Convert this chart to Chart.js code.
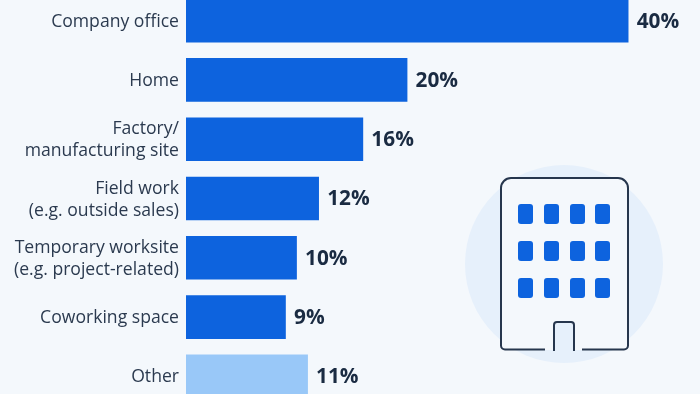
<!DOCTYPE html>
<html lang="en">
<head>
<meta charset="UTF-8">
<title>Work locations</title>
<script src="https://cdn.jsdelivr.net/npm/chart.js"></script>
<style>
    html, body { margin: 0; padding: 0; width: 700px; height: 394px; overflow: hidden; background: #f4f8fc; }
    #chart-box { position: absolute; left: 0; top: -9px; width: 700px; height: 415px; }
    #icon { position: absolute; left: 450px; top: 150px; }
</style>
</head>
<body>
<div id="chart-box"><canvas id="chart"></canvas></div>

<!-- Building icon -->
<svg id="icon" width="230" height="230" viewBox="0 0 230 230">
    <circle cx="114" cy="114" r="99" fill="#e6f0fb"/>
    <rect x="51" y="28" width="127" height="172" fill="#f4f8fc"/>
    <rect x="104" y="172" width="20" height="28" fill="#e6f0fb"/>
    <path d="M95 199.500H55a4 4 0 0 1-4-4V38a10 10 0 0 1 10-10h107a10 10 0 0 1 10 10v157.500a4 4 0 0 1-4 4H132" fill="none" stroke="#26364d" stroke-width="2"/>
    <path d="M104 201V175a3 3 0 0 1 3-3h14a3 3 0 0 1 3 3v26" fill="none" stroke="#26364d" stroke-width="2"/>
    <g fill="#0d63de">
        <rect x="68" y="54" width="15" height="20" rx="3"/><rect x="94" y="54" width="15" height="20" rx="3"/><rect x="120" y="54" width="15" height="20" rx="3"/><rect x="145" y="54" width="15" height="20" rx="3"/>
        <rect x="68" y="91" width="15" height="20" rx="3"/><rect x="94" y="91" width="15" height="20" rx="3"/><rect x="120" y="91" width="15" height="20" rx="3"/><rect x="145" y="91" width="15" height="20" rx="3"/>
        <rect x="68" y="128" width="15" height="20" rx="3"/><rect x="94" y="128" width="15" height="20" rx="3"/><rect x="120" y="128" width="15" height="20" rx="3"/><rect x="145" y="128" width="15" height="20" rx="3"/>
    </g>
</svg>

<script>
    const categories = [
        "Company office",
        "Home",
        ["Factory/", "manufacturing site"],
        ["Field work", "(e.g. outside sales)"],
        ["Temporary worksite", "(e.g. project-related)"],
        "Coworking space",
        "Other"
    ];
    const shares = [40, 20, 16, 12, 10, 9, 11];
    const barColors = ["#0d63de", "#0d63de", "#0d63de", "#0d63de", "#0d63de", "#0d63de", "#99c8f8"];

    // Draws the bold "40%" labels at the end of each bar
    const valueLabels = {
        id: "valueLabels",
        afterDatasetsDraw(chart) {
            const ctx = chart.ctx;
            ctx.save();
            ctx.font = "bold 20.8px 'Open Sans'";
            ctx.fillStyle = "#1a2b42";
            ctx.textBaseline = "middle";
            chart.getDatasetMeta(0).data.forEach((bar, i) => {
                ctx.fillText(shares[i] + "%", bar.x + 8.5, bar.y + 1);
            });
            ctx.restore();
        }
    };

    new Chart(document.getElementById("chart"), {
        type: "bar",
        data: {
            labels: categories,
            datasets: [{ data: shares, backgroundColor: barColors, barThickness: 43 }]
        },
        options: {
            indexAxis: "y",
            responsive: true,
            maintainAspectRatio: false,
            animation: false,
            layout: { padding: 0 },
            plugins: { legend: { display: false }, tooltip: { enabled: false } },
            scales: {
                x: { display: false, min: 0, max: 46.5 },
                y: {
                    // fixed gutter, and no extra room for the first and last label
                    afterFit(axis) {
                        axis.width = 186;
                        axis.paddingTop = 0;
                        axis.paddingBottom = 0;
                    },
                    grid: { display: false, drawTicks: false, tickLength: 0 },
                    border: { display: false },
                    ticks: {
                        padding: 7,
                        labelOffset: 1,
                        color: "#2b3a4f",
                        font: { family: "'Open Sans'", size: 17.6, lineHeight: 1.25 }
                    }
                }
            }
        },
        plugins: [valueLabels]
    });
</script>
</body>
</html>
